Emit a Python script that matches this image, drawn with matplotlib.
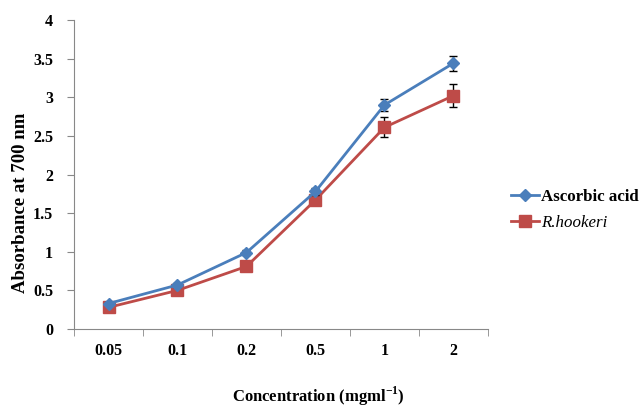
import numpy as np
import matplotlib.pyplot as plt
from matplotlib.lines import Line2D

# data
conc = ['0.05', '0.1', '0.2', '0.5', '1', '2']
ascorbic = [0.33, 0.57, 0.99, 1.78, 2.90, 3.44]
ascorbic_err = [0.02, 0.02, 0.03, 0.05, 0.08, 0.10]
hookeri = [0.28, 0.50, 0.81, 1.67, 2.61, 3.02]
hookeri_err = [0.02, 0.02, 0.03, 0.06, 0.13, 0.15]

plt.rcParams['font.family'] = ['Liberation Serif', 'DejaVu Serif']
plt.rcParams['font.weight'] = 'bold'
plt.rcParams['axes.labelweight'] = 'bold'
plt.rcParams['mathtext.fontset'] = 'custom'
plt.rcParams['mathtext.rm'] = 'Liberation Serif:bold'
plt.rcParams['mathtext.bf'] = 'Liberation Serif:bold'

fig = plt.figure(figsize=(6.42, 4.08), dpi=100)
ax = fig.add_axes([0.1153, 0.1936, 0.6447, 0.7574])

x = np.arange(len(conc))
blue = '#4a7ebb'
red = '#be4b48'

ax.errorbar(x, ascorbic, yerr=ascorbic_err, color=blue, lw=2, marker='D',
            ms=6, ecolor='black', elinewidth=1, capsize=3, capthick=1, zorder=3)
ax.errorbar(x, hookeri, yerr=hookeri_err, color=red, lw=2, marker='s',
            ms=8.5, ecolor='black', elinewidth=1, capsize=3, capthick=1, zorder=2)

ax.set_xlim(-0.5, len(conc) - 0.5)
ax.set_ylim(0, 4)
ax.set_yticks(np.arange(0, 4.01, 0.5))
ax.set_yticklabels(['0', '0.5', '1', '1.5', '2', '2.5', '3', '3.5', '4'], fontsize=11.5)
ax.set_xticks(x)
ax.set_xticklabels(conc, fontsize=11.5)
ax.set_xticks(np.arange(-0.5, len(conc), 1), minor=True)
ax.tick_params(axis='x', which='major', length=0, pad=10)
ax.tick_params(axis='x', which='minor', length=5, color='#888888')
ax.tick_params(axis='y', length=5, color='#888888', pad=10)

for s in ['top', 'right']:
    ax.spines[s].set_visible(False)
for s in ['left', 'bottom']:
    ax.spines[s].set_color('#888888')

ax.set_ylabel('Absorbance at 700 nm', fontsize=13.5)
ax.yaxis.set_label_coords(-0.108, 0.41)
ax.set_xlabel('Concentration (mgml$^{\\mathrm{-1}}$)', fontsize=12)
ax.xaxis.set_label_coords(0.59, -0.18)

handles = [Line2D([], [], color=blue, lw=2, marker='D', ms=6),
           Line2D([], [], color=red, lw=2, marker='s', ms=8.5)]
leg = ax.legend(handles, ['Ascorbic acid', 'R.hookeri'], loc='center left',
                bbox_to_anchor=(1.02, 0.385), frameon=False, fontsize=12.2,
                handlelength=1.6, handletextpad=0.15, labelspacing=0.6)
leg.get_texts()[1].set_fontstyle('italic')
leg.get_texts()[1].set_fontweight('normal')

fig.savefig('out.png', dpi=100)
